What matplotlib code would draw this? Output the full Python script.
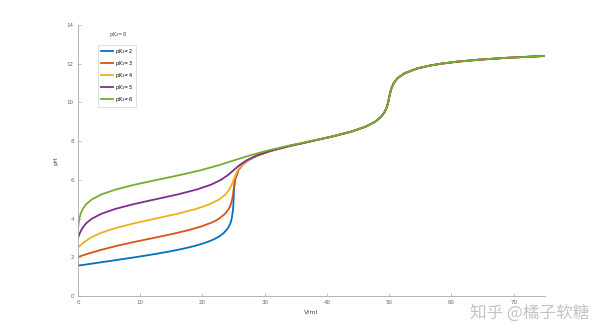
import matplotlib.pyplot as plt

# titration curves, pKa2 = 8, pKa1 = 2..6  (V in ml, pH)
v_pk2 = [0, 2.80, 4.93, 7.03, 9.09, 11.07, 12.93, 14.67, 16.24, 17.65, 18.88, 19.94, 20.85,
         21.62, 22.25, 22.78, 23.40, 24.08, 24.48, 24.70, 24.92, 25.00, 25.07, 25.22, 25.77,
         26.33, 27.27, 28.77, 31.0]
ph_pk2 = [1.57, 1.7, 1.8, 1.9, 2.0, 2.1, 2.2, 2.3, 2.4, 2.5, 2.6, 2.7, 2.8,
          2.9, 3.0, 3.1, 3.25, 3.5, 3.75, 4.0, 4.5, 5.0, 5.5, 6.0, 6.5,
          6.75, 7.0, 7.25, 7.5]

v_pk3 = [0, 1.73, 3.87, 6.33, 9.13, 12.13, 15.08, 17.71, 19.87, 21.51, 22.15, 22.68, 23.64,
         24.23, 24.57, 24.77, 24.90, 25.00, 25.22, 25.76, 26.33, 27.27, 28.77, 31.0]
ph_pk3 = [2.02, 2.2, 2.4, 2.6, 2.8, 3.0, 3.2, 3.4, 3.6, 3.8, 3.9, 4.0, 4.25,
          4.5, 4.75, 5.0, 5.25, 5.5, 6.0, 6.5, 6.75, 7.0, 7.25, 7.5]

v_pk4 = [0, 0.32, 0.68, 1.28, 2.00, 2.58, 3.61, 5.91, 8.94, 12.46, 15.98, 18.99, 21.23, 22.75,
         23.71, 24.31, 24.70, 25.00, 25.30, 25.69, 26.29, 27.25, 28.76, 31.0]
ph_pk4 = [2.51, 2.6, 2.7, 2.85, 3.0, 3.1, 3.25, 3.5, 3.75, 4.0, 4.25, 4.5, 4.75, 5.0,
          5.25, 5.5, 5.75, 6.0, 6.25, 6.5, 6.75, 7.0, 7.25, 7.5]

v_pk5 = [0, 0.29, 0.69, 1.28, 2.25, 3.76, 6.00, 8.99, 12.51, 16.04, 19.06, 21.36, 22.97,
         24.11, 25.00, 25.90, 27.03, 28.64, 30.93]
ph_pk5 = [3.00, 3.25, 3.5, 3.75, 4.0, 4.25, 4.5, 4.75, 5.0, 5.25, 5.5, 5.75, 6.0,
          6.25, 6.5, 6.75, 7.0, 7.25, 7.5]

# shared middle part (pH 7.75 - 8.5) for pKa1 <= 5
v_mid = [34.0, 37.5, 41.0, 44.0]
ph_mid = [7.75, 8.0, 8.25, 8.5]

v_pk6 = [0, 0.095, 0.22, 0.42, 0.76, 1.33, 2.27, 3.78, 6.04, 9.08, 12.69, 16.38, 19.72,
         22.54, 25.00, 27.46, 30.28, 33.62, 37.31, 40.92, 43.96]
ph_pk6 = [3.50, 3.75, 4.0, 4.25, 4.5, 4.75, 5.0, 5.25, 5.5, 5.75, 6.0, 6.25, 6.5,
          6.75, 7.0, 7.25, 7.5, 7.75, 8.0, 8.25, 8.5]

# common tail, second equivalence point at 50 ml
v_tail = [46.22, 47.73, 48.68, 49.26, 49.61, 49.83, 49.99, 50.16, 50.38, 50.73, 51.33,
          52.44, 54.46, 56.47, 58.33, 60.80, 64.13, 68.70, 75.0]
ph_tail = [8.75, 9.0, 9.25, 9.5, 9.75, 10.0, 10.25, 10.5, 10.75, 11.0, 11.25,
           11.5, 11.75, 11.9, 12.0, 12.1, 12.2, 12.3, 12.4]

curvas = [
    (v_pk2 + v_mid + v_tail, ph_pk2 + ph_mid + ph_tail, 'pK$_1$=2', '#0072BD'),
    (v_pk3 + v_mid + v_tail, ph_pk3 + ph_mid + ph_tail, 'pK$_1$=3', '#D95319'),
    (v_pk4 + v_mid + v_tail, ph_pk4 + ph_mid + ph_tail, 'pK$_1$=4', '#EDB120'),
    (v_pk5 + v_mid + v_tail, ph_pk5 + ph_mid + ph_tail, 'pK$_1$=5', '#7E2F8E'),
    (v_pk6 + v_tail, ph_pk6 + ph_tail, 'pK$_1$=6', '#77AC30'),
]

fig = plt.figure(figsize=(6, 3.33), dpi=100)
ax = fig.add_axes([0.13, 0.111, 0.778, 0.814])

for v, ph, nome, cor in curvas:
    ax.plot(v, ph, color=cor, lw=1.3, label=nome)

ax.set_xlim(0, 75)
ax.set_ylim(0, 14)
ax.set_xticks(range(0, 71, 10))
ax.set_yticks(range(0, 15, 2))

cinza = '#a8a8a8'
for s in ['top', 'right']:
    ax.spines[s].set_visible(False)
for s in ['left', 'bottom']:
    ax.spines[s].set_color(cinza)
    ax.spines[s].set_linewidth(0.6)
ax.tick_params(direction='in', length=2.5, width=0.5, color=cinza,
               labelsize=4, labelcolor='#666666', pad=3)

ax.set_xlabel('V/ml', fontsize=4.5, color='#444444', labelpad=3)
ax.set_ylabel('pH', fontsize=4.5, color='#444444', labelpad=6)

leg = ax.legend(loc='upper left', bbox_to_anchor=(0.038, 0.937), fontsize=3.6,
                handlelength=2.4, handletextpad=0.5, borderpad=0.5, labelspacing=0.6,
                frameon=True, fancybox=False, edgecolor='#c8c8c8')
leg.get_frame().set_linewidth(0.5)
ax.text(0.085, 0.965, 'pK$_2$=8', transform=ax.transAxes, fontsize=3.6,
        color='#444444', ha='center', va='center')

fig.text(0.982, 0.035, '知乎 @橘子软糖', ha='right', va='bottom', fontsize=12,
         color='#c4c4c4', family=['Noto Sans CJK SC', 'DejaVu Sans'])

fig.savefig('out.png', dpi=100)
